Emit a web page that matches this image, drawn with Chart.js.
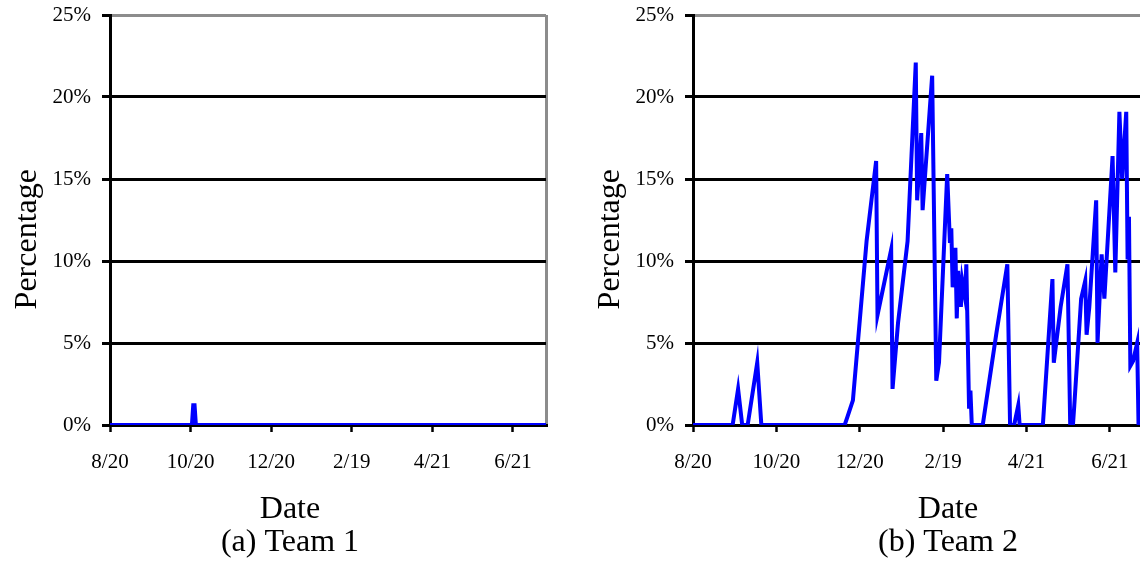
<!DOCTYPE html>
<html><head><meta charset="utf-8">
<script src="https://cdn.jsdelivr.net/npm/chart.js@4.4.1/dist/chart.umd.min.js"></script>
<style>
html,body{margin:0;padding:0;background:#fff;overflow:hidden;width:1140px;height:567px;position:relative;}
#c1{position:absolute;left:0;top:0;}
#c2{position:absolute;left:580px;top:0;}
</style></head><body>
<canvas id="c1" width="580" height="567"></canvas>
<canvas id="c2" width="736" height="567"></canvas>
<script>
// Axis ticks (day offsets from 8/20, one tick every 61 days)
const tickDays = [0, 61, 122, 183, 244, 305];
const tickLabels = ['8/20', '10/20', '12/20', '2/19', '4/21', '6/21'];
const yTicks = [0, 5, 10, 15, 20, 25];
const dayMax = 330;

// Team 1 (days since 8/20, percentage)
const team1Days   = [0, 62, 63, 64, 65, 330];
const team1Values = [0, 0, 1.2, 1.2, 0, 0];

// Team 2 (days since 8/20, percentage)
const team2Days = [0, 29, 33, 36, 40, 47, 50, 111, 113, 117, 127, 134, 135, 145, 146, 150, 157, 163, 164, 167,
  168, 175, 178, 180, 186, 188, 189, 190, 192, 193, 194, 196, 197, 199, 200, 202, 203, 204, 212, 222,
  230, 232, 235, 238, 239, 256, 263, 264, 269, 274, 276, 278, 279, 284, 287, 288, 290, 295, 296, 299,
  301, 307, 309, 312, 314, 317, 318, 319, 320, 322, 325, 326, 330];
const team2Values = [0, 0, 2.2, 0, 0, 3.8, 0, 0, 0.5, 1.5, 11.2, 16.1, 6.7, 10.7, 2.2, 6.2, 11.2, 22.1, 13.7, 17.8,
  13.1, 21.3, 2.7, 3.8, 15.3, 11.1, 12.0, 8.4, 10.8, 6.5, 9.4, 7.2, 8.8, 7.8, 9.8, 1.0, 2.1, 0, 0, 5.6,
  9.8, 0, 0, 1.2, 0, 0, 8.9, 3.8, 7.2, 9.8, 0, 0, 1.2, 7.7, 8.8, 5.5, 7.2, 13.7, 5.0, 10.4,
  7.7, 16.4, 9.3, 19.1, 15.0, 19.1, 10.1, 12.7, 3.6, 3.9, 5.0, 0, 0];

Chart.defaults.font.family = "'Liberation Serif', 'Times New Roman', serif";
Chart.defaults.color = '#000';

const GRAY = '#8c8c8c';
const CLEAR = 'rgba(0,0,0,0)';
const BIG = { size: 32, weight: 'normal', lineHeight: '33px' };

function makeChart(id, days, values, caption, yAxisWidth, yTitlePad, rightSpace) {
  return new Chart(document.getElementById(id), {
    type: 'line',
    data: {
      datasets: [{
        data: days.map((d, i) => ({ x: d, y: values[i] })),
        borderColor: '#0000ff',
        borderWidth: 4,
        pointRadius: 0,
        tension: 0,
        fill: false,
        yAxisID: 'y'
      }]
    },
    options: {
      responsive: false,
      animation: false,
      devicePixelRatio: 1,
      layout: { padding: { top: 15, left: 0, right: 0, bottom: 0 } },
      plugins: {
        legend: { display: false },
        tooltip: { enabled: false },
        subtitle: {
          display: true, text: 'Date', position: 'bottom', color: '#000',
          font: BIG, padding: { top: 0, bottom: 0 }
        },
        title: {
          display: true, text: caption, position: 'bottom', color: '#000',
          font: BIG, padding: { top: 0, bottom: 7.5 }
        }
      },
      scales: {
        x: {
          type: 'linear', min: 0, max: dayMax,
          afterBuildTicks: s => { s.ticks = tickDays.concat([dayMax]).map(v => ({ value: v })); },
          ticks: {
            callback: v => { const i = tickDays.indexOf(v); return i >= 0 ? tickLabels[i] : ''; },
            color: '#000', font: { size: 21 }, padding: 18, maxRotation: 0, autoSkip: false
          },
          grid: {
            color: c => (c.tick && c.tick.value === dayMax) ? GRAY : CLEAR,
            lineWidth: 3, drawOnChartArea: true, drawTicks: true, tickLength: 7,
            tickColor: c => (c.tick && c.tick.value === dayMax) ? CLEAR : '#000',
            tickWidth: 2.5
          },
          border: { display: true, color: '#000', width: 3 },
          afterFit: s => { s.height = 68.5; s.paddingLeft = 0; s.paddingRight = 0; }
        },
        y: {
          min: 0, max: 25,
          afterBuildTicks: s => { s.ticks = yTicks.map(v => ({ value: v })); },
          ticks: { callback: v => v + '%', color: '#000', font: { size: 21 }, padding: 11 },
          grid: {
            color: c => (c.tick && c.tick.value === 25) ? GRAY : '#000',
            lineWidth: 3, tickLength: 8, tickColor: '#000', tickWidth: 3
          },
          border: { display: true, color: '#000', width: 3 },
          title: {
            display: true, text: 'Percentage\u2002\u2002\u2009', color: '#000',
            font: BIG, padding: { top: yTitlePad, bottom: 0 }
          },
          afterFit: s => { s.width = yAxisWidth; s.paddingTop = 0; s.paddingBottom = 0; }
        },
        // empty spacer on the right so the centred captions sit where the original's do
        spacer: {
          type: 'linear', position: 'right', display: true,
          ticks: { display: false }, grid: { display: false }, border: { display: false },
          afterFit: s => { s.width = rightSpace; s.paddingTop = 0; s.paddingBottom = 0; }
        }
      }
    }
  });
}

makeChart('c1', team1Days, team1Values, '(a) Team 1', 110, 11.5, 34);
makeChart('c2', team2Days, team2Values, '(b) Team 2', 113, 14.5, 172);
</script>
</body></html>
